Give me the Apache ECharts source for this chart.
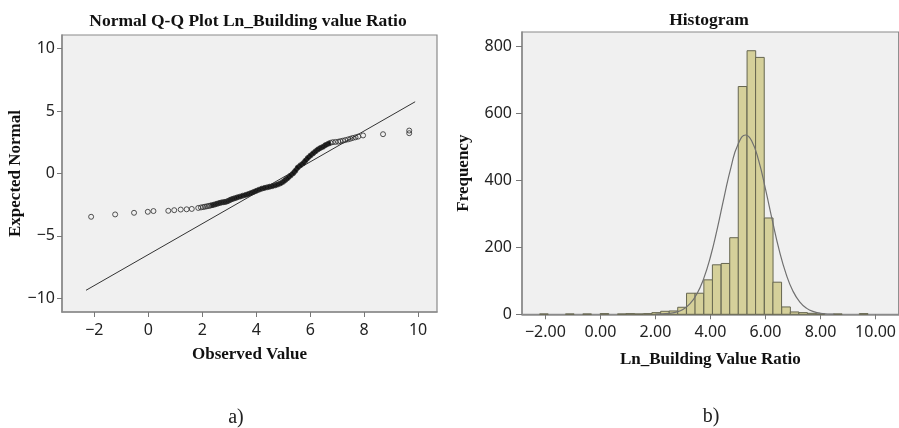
<!DOCTYPE html>
<html>
<head>
<meta charset="utf-8">
<script src="https://cdn.jsdelivr.net/npm/echarts@6/dist/echarts.min.js"></script>
<style>
html,body{margin:0;padding:0;background:#fff;}
#c{width:899px;height:428px;}
</style>
</head>
<body>
<div id="c"></div>
<script>
// ---------- Q-Q plot data (observed value, expected normal) ----------
const qqX = [-2.12,-1.23,-0.53,-0.02,0.19,0.74,0.96,1.20,1.42,1.61,1.85,
  1.95,2.03,2.10,2.17,2.24,2.30,2.36,2.42,2.48,2.54,2.60,2.66,2.72,2.78,2.84,2.90,2.96,
  3.02,3.08,3.15,3.22,3.30,3.40,3.50,3.60,3.70,3.80,3.90,4.00,4.10,4.20,4.30,4.40,4.50,
  4.60,4.70,4.80,4.90,5.00,5.08,5.17,5.27,5.37,5.45,5.54,5.64,5.74,5.82,5.91,6.01,6.11,
  6.20,6.29,6.38,6.48,6.57,6.67,6.75,6.84,6.94,7.04,7.12,7.21,7.30,7.40,7.49,7.58,7.68,
  7.78,7.96,8.70,9.67,9.67];
const qqY = [-3.47,-3.28,-3.15,-3.07,-3.01,-2.99,-2.94,-2.89,-2.87,-2.84,-2.76,
  -2.72,-2.69,-2.66,-2.63,-2.60,-2.57,-2.54,-2.51,-2.47,-2.43,-2.39,-2.35,-2.32,-2.30,-2.28,-2.25,-2.20,
  -2.13,-2.07,-2.02,-1.97,-1.91,-1.85,-1.78,-1.72,-1.65,-1.57,-1.48,-1.39,-1.30,-1.22,-1.16,-1.11,-1.06,
  -1.01,-0.95,-0.88,-0.79,-0.66,-0.52,-0.36,-0.17,0.02,0.22,0.48,0.66,0.82,1.02,1.24,1.44,1.62,
  1.78,1.93,2.05,2.15,2.28,2.39,2.46,2.51,2.53,2.55,2.59,2.63,2.68,2.73,2.79,2.85,2.90,
  2.96,3.05,3.15,3.23,3.44];
// reference line end points
const refLineX = [-2.31, 9.89];
const refLineY = [-9.36, 5.75];
const qqXTicks = [-2, 0, 2, 4, 6, 8, 10];
const qqYTicks = [-10, -5, 0, 5, 10];

// ---------- Histogram data ----------
const binWidth = 0.314;
const binStarts = [-2.21,-1.27,-0.64,-0.01,0.62,0.93,1.24,1.56,
  1.87,2.19,2.50,2.81,3.13,3.44,3.76,4.07,4.39,4.70,5.01,5.33,5.64,5.96,
  6.27,6.59,6.90,7.21,7.53,7.84,8.47,9.41];
const binCounts = [1,1,1,2,1,2,1,2,
  5,9,10,21,63,63,103,148,152,229,681,788,768,288,
  96,22,7,5,3,1,1,2];
const curveX = [2.0,2.5,2.75,3.0,3.25,3.5,3.75,4.0,4.25,4.5,4.75,5.0,5.28,5.5,5.75,6.0,6.25,6.5,6.75,7.0,7.25,7.5,7.75,8.0,8.5];
const curveY = [0.3,2.5,6.4,14.6,31,60,106,172,257,352,441,508,536,518,460,374,280,191,120,69,36.5,17.7,7.9,3.2,0.4];
const histXTicks = [-2, 0, 2, 4, 6, 8, 10];
const histYTicks = [0, 200, 400, 600, 800];

// ---------- build ----------
const sansFont = '"Noto Sans", "DejaVu Sans", sans-serif';
const serifFont = '"Liberation Serif", "Times New Roman", serif';
const fmtMinus = s => String(s).replace('-', '\u2212');

const qqPoints = qqX.map((x, i) => [x, qqY[i]]);
const bandPoints = qqPoints.filter(p => p[0] >= 2.3 && p[0] <= 6.75);
const refLine = refLineX.map((x, i) => [x, refLineY[i]]);
const histData = binStarts.map((s, i) => [s, binCounts[i]]);
const curveData = curveX.map((x, i) => [x, curveY[i]]);

function axisCommon() {
  return {
    axisLine: { show: true, onZero: false, lineStyle: { color: '#8a8a8a', width: 1.5 } },
    axisTick: { show: true, inside: false, length: 5, lineStyle: { color: '#777', width: 1 } },
    splitLine: { show: false },
    axisLabel: { color: '#222', fontFamily: sansFont, fontSize: 16 },
    nameLocation: 'middle',
    nameTextStyle: { fontFamily: serifFont, fontWeight: 'bold', fontSize: 17, color: '#111' }
  };
}

function mk(base, extra) {
  const o = Object.assign({}, base, extra);
  o.axisTick = Object.assign({}, base.axisTick, extra.axisTick || {});
  o.axisLabel = Object.assign({}, base.axisLabel, extra.axisLabel || {});
  return o;
}

const chart = echarts.init(document.getElementById('c'), null, { renderer: 'canvas' });

const option = {
  backgroundColor: '#ffffff',
  animation: false,
  grid: [
    { left: 62, top: 35, width: 375, height: 277, show: true, backgroundColor: '#f0f0f0', borderColor: '#8a8a8a', borderWidth: 1.2 },
    { left: 522, top: 32, width: 382, height: 282.3, show: true, backgroundColor: '#f0f0f0', borderColor: '#8a8a8a', borderWidth: 1.2 }
  ],
  xAxis: [
    mk(axisCommon(), {
      type: 'value', gridIndex: 0, min: -3.2, max: 10.7,
      name: 'Observed Value', nameGap: 34,
      axisTick: { customValues: qqXTicks },
      axisLabel: { customValues: qqXTicks, margin: 10, formatter: v => fmtMinus(v) }
    }),
    mk(axisCommon(), {
      type: 'value', gridIndex: 1, min: -2.85, max: 10.84,
      name: 'Ln_Building Value Ratio', nameGap: 37,
      axisTick: { customValues: histXTicks },
      axisLabel: { customValues: histXTicks, margin: 10, formatter: v => fmtMinus(Number(v).toFixed(2)) }
    })
  ],
  yAxis: [
    mk(axisCommon(), {
      type: 'value', gridIndex: 0, min: -11.1, max: 11.1,
      name: 'Expected Normal', nameGap: 36,
      axisTick: { customValues: qqYTicks },
      axisLabel: { customValues: qqYTicks, margin: 7, formatter: v => fmtMinus(v) }
    }),
    mk(axisCommon(), {
      type: 'value', gridIndex: 1, min: 0, max: 844,
      name: 'Frequency', nameGap: 50,
      axisTick: { customValues: histYTicks, length: 6 },
      axisLabel: { customValues: histYTicks, margin: 10 }
    })
  ],
  graphic: [
    { type: 'text', x: 248, y: 21, style: { text: 'Normal Q-Q Plot Ln_Building value Ratio', font: 'bold 17.5px ' + serifFont, fill: '#111', textAlign: 'center', textVerticalAlign: 'middle' } },
    { type: 'text', x: 709, y: 20, style: { text: 'Histogram', font: 'bold 17.5px ' + serifFont, fill: '#111', textAlign: 'center', textVerticalAlign: 'middle' } },
    { type: 'text', x: 236, y: 418, style: { text: 'a)', font: '20px ' + serifFont, fill: '#222', textAlign: 'center', textVerticalAlign: 'middle' } },
    { type: 'text', x: 711, y: 417, style: { text: 'b)', font: '20px ' + serifFont, fill: '#222', textAlign: 'center', textVerticalAlign: 'middle' } }
  ],
  series: [
    {
      type: 'line', xAxisIndex: 0, yAxisIndex: 0, data: refLine, showSymbol: false, symbol: 'none',
      lineStyle: { color: '#333', width: 1 }, silent: true, z: 2
    },
    {
      type: 'line', xAxisIndex: 0, yAxisIndex: 0, data: bandPoints, showSymbol: false, symbol: 'none', smooth: 0.3,
      lineStyle: { color: '#111', width: 4.5 }, silent: true, z: 3
    },
    {
      type: 'scatter', xAxisIndex: 0, yAxisIndex: 0, data: qqPoints, symbol: 'circle', symbolSize: 5,
      itemStyle: { color: 'rgba(0,0,0,0)', borderColor: '#2a2a2a', borderWidth: 1 }, silent: true, z: 4
    },
    {
      type: 'custom', xAxisIndex: 1, yAxisIndex: 1, data: histData, silent: true, z: 2,
      renderItem: function (params, api) {
        const s = api.value(0), c = api.value(1);
        const p0 = api.coord([s, 0]);
        const p1 = api.coord([s + binWidth, c]);
        return {
          type: 'rect',
          shape: { x: p0[0], y: p1[1], width: p1[0] - p0[0], height: p0[1] - p1[1] },
          style: { fill: '#d5d09a', stroke: '#666650', lineWidth: 1 }
        };
      }
    },
    {
      type: 'line', xAxisIndex: 1, yAxisIndex: 1, data: curveData, showSymbol: false, symbol: 'none', smooth: true,
      lineStyle: { color: '#707070', width: 1.2 }, silent: true, z: 5
    }
  ]
};
chart.setOption(option);
</script>
</body>
</html>
